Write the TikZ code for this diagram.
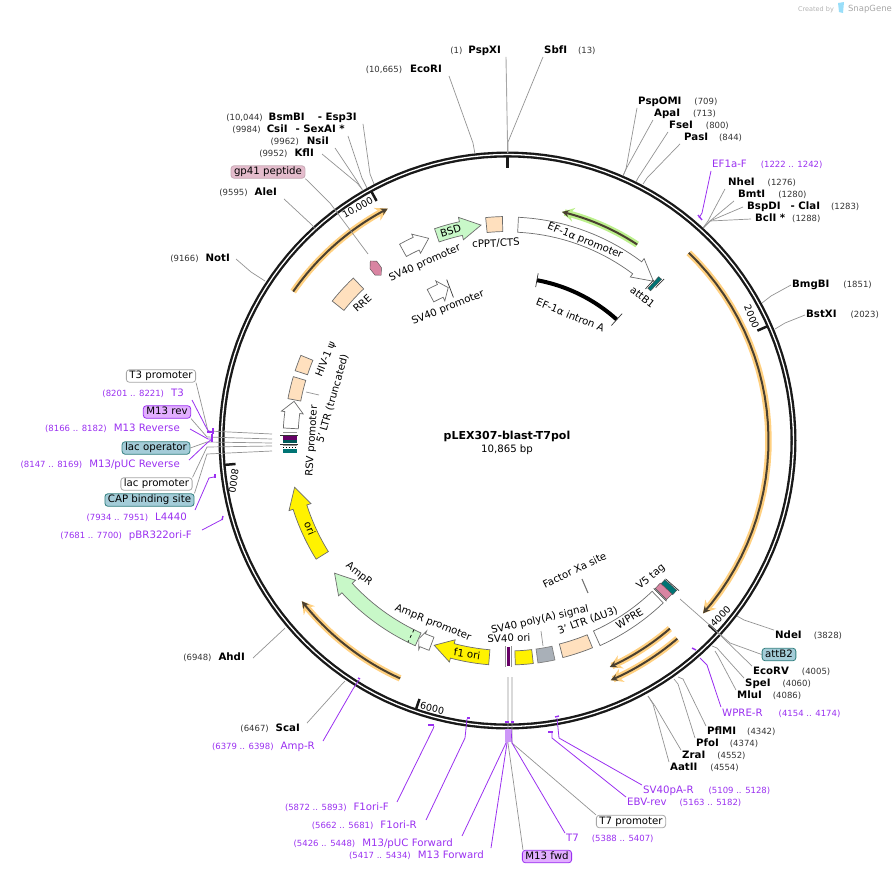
\documentclass[tikz,border=0pt]{standalone}
\usepackage{fontspec}
\setmainfont{DejaVu Sans}
\usetikzlibrary{arrows.meta}

\definecolor{primer}{HTML}{9A30F0}
\definecolor{numgray}{HTML}{333333}
\definecolor{peach}{HTML}{FFE0BE}
\definecolor{mint}{HTML}{C8F8C8}
\definecolor{tealbox}{HTML}{A4CCD8}
\definecolor{violetbox}{HTML}{E2AEFF}
\definecolor{pinkbox}{HTML}{E4BCCC}
\definecolor{glowor}{HTML}{FFD080}
\definecolor{glowgr}{HTML}{BCF08C}
\definecolor{steelbox}{HTML}{A9B0B8}
\definecolor{darktip}{HTML}{4A4030}

\tikzset{
  every node/.style={font=\fontsize{10.2}{12}\selectfont, inner sep=1pt, text height=7.5pt, text depth=2pt, yshift=-1pt},
  cutline/.style={draw=gray!85, line width=0.7pt},
  boxline/.style={draw=gray!70, line width=0.9pt},
  primerline/.style={draw=primer, line width=0.8pt},
  primertick/.style={draw=primer, line width=1.4pt},
  ringtick/.style={draw=black!90, line width=2.5pt},
  plainbox/.style={draw=gray!70, fill=white, rounded corners=3pt, inner xsep=3pt, inner ysep=1.5pt, line width=0.8pt},
  tealtag/.style={plainbox, draw=teal!60!gray, fill=tealbox},
  violettag/.style={plainbox, draw=primer, fill=violetbox},
  pinktag/.style={plainbox, draw=pinkbox!70!gray, fill=pinkbox},
  whitefeat/.style={draw=gray!85!black, fill=white, line width=0.7pt},
  mintfeat/.style={whitefeat, fill=mint},
  peachfeat/.style={whitefeat, fill=peach},
  yellowfeat/.style={whitefeat, fill=yellow},
  grayfeat/.style={whitefeat, fill=steelbox, draw=gray},
  tealfeat/.style={draw=black!70, fill=teal!70!cyan!70!black, line width=0.4pt},
  pinkfeat/.style={draw=black!70, fill=pinkbox!70!purple, line width=0.4pt},
  blackbar/.style={draw=black!80, line width=0.7pt},
  ringnum/.style={font=\fontsize{9.5}{11}\selectfont},
}

\newcommand{\sitepos}[1]{{\fontsize{8.5}{10}\selectfont\color{numgray}#1}}
\newcommand{\primerpos}[1]{{\fontsize{8.5}{10}\selectfont #1}}
% leader: label anchor, then bend and end on the ring
\newcommand{\linkto}[5][cutline]{%
  \coordinate (#2-k) at (#4);
  \coordinate (#2-r) at (#5);
  \draw[#1] (#3) -- (#2-k) -- (#2-r);
}
% angles run clockwise from 3 o'clock, radius in pixels
\newcommand{\arcarrow}[7]{%
  \draw[#7] plot[domain=#1:#2,samples=20] (\x:#4-#5) -- (#2:#4-#6) -- (#3:#4)
    -- (#2:#4+#6) -- plot[domain=#2:#1,samples=20] (\x:#4+#5) -- cycle;
}
\newcommand{\arcbox}[5]{%
  \draw[#5] plot[domain=#1:#2,samples=12] (\x:#3-#4) -- plot[domain=#2:#1,samples=12] (\x:#3+#4) -- cycle;
}
\newcommand{\glowarc}[4]{%
  \draw[#4, line width=6.5pt, line cap=butt, -{Stealth[length=12pt,width=14pt]}] plot[domain=#1:#2,samples=30] (\x:#3);
  \draw[darktip, line width=2pt, -{Stealth[length=7pt,width=7pt]}] plot[domain=#1:#2,samples=30] (\x:#3);
}
\newcommand{\ringmark}[1]{\draw[ringtick] (#1:273) -- (#1:284);}

\begin{document}
\begin{tikzpicture}[x=1pt,y=-1pt]
\useasboundingbox (0,0) rectangle (895,873);

% ---- credit
\node[text=gray!60, font=\fontsize{6.5}{8}\selectfont] (credit) at (816,8) {Created by};
\node[text=gray!70, font=\fontsize{8.5}{10}\selectfont] (brand) at (870,8) {SnapGene};
\fill[cyan!40] (838,3) -- (844,2) -- (843,13) -- (839,12) -- cycle;

% ---- ring
\begin{scope}[shift={(507.5,440.5)}]
\draw[black!90, line width=6pt] plot[domain=0:360,samples=145] (\x:286) -- cycle;
\draw[white, line width=1.3pt] plot[domain=0:360,samples=145] (\x:286) -- cycle;
\ringmark{-90}
\ringmark{-23.73}
\ringmark{42.5}
\ringmark{108.8}
\ringmark{175.07}
\ringmark{241.34}

% ---- highlighted reading frames
\glowarc{214.8}{242.7}{261}{glowor}
\glowarc{-46}{41.5}{261}{glowor}
\glowarc{49.2}{65.7}{248.5}{glowor}
\glowarc{49.4}{66.7}{261}{glowor}
\glowarc{114.3}{142}{261}{glowor}
\glowarc{-56.5}{-76.6}{235}{glowgr}

% ---- features
\arcarrow{-87.2}{-53.1}{-47.5}{216}{7.5}{11.5}{whitefeat}
\arcarrow{-109}{-102.4}{-97}{217}{7}{11.5}{mintfeat}
\arcarrow{-118.8}{-114.9}{-111.3}{217}{7}{10.5}{whitefeat}
\arcbox{-95.6}{-91.3}{216.5}{7.5}{peachfeat}
\arcbox{-141.5}{-133.5}{216.5}{7.5}{peachfeat}
\draw[pinkfeat] (-127.4:226) -- (-128.7:220) -- (-128.7:212) -- (-127.4:208) -- (-126.1:214) -- (-126.1:222) -- cycle;
\arcarrow{-118}{-114.2}{-111.2}{164}{7}{11}{whitefeat}
\draw[blackbar] (-110.7:153) -- (-110.7:172);
\arcbox{-47.3}{-46.3}{215}{8}{tealfeat}
\draw[blackbar] (-45.9:213) -- (-45.9:225);
\draw[blackbar] (-47.7:205) -- (-47.7:217);
\draw[black, line width=4pt] plot[domain=-79.6:-47.9,samples=20] (\x:163);
\draw[blackbar] (-79.6:156) -- (-79.6:170);
\draw[blackbar] (-47.9:155) -- (-47.9:171);
\arcbox{198.2}{202.4}{217}{6.5}{peachfeat}
\arcbox{190.8}{196.6}{217}{6.5}{peachfeat}
\arcarrow{183.2}{187.4}{190.4}{217}{7.5}{11}{whitefeat}
\arcarrow{148.2}{162.2}{167.6}{218}{7.2}{11.5}{yellowfeat}
\arcarrow{114.2}{137.4}{142.5}{218}{7}{11.5}{mintfeat}
\draw[black, dashed, line width=0.7pt] (116.3:211) -- (116.3:225);
\arcarrow{110.5}{113}{114.1}{217}{7}{10}{whitefeat}
\arcarrow{94.8}{104.7}{109.7}{217.5}{7.5}{11.5}{yellowfeat}
\arcbox{83.4}{88}{217.5}{7}{yellowfeat}
\arcbox{77.8}{82.2}{217.5}{7}{grayfeat}
\arcbox{67.7}{75.7}{217}{7}{peachfeat}
\arcbox{46.2}{65.7}{217}{8}{whitefeat}
\arcbox{41.5}{43}{218}{8}{tealfeat}
\arcbox{43}{45}{217}{8}{pinkfeat}
\draw[blackbar] (41.2:210) -- (41.2:228);
\draw[blackbar] (45.3:208) -- (45.3:226);
\end{scope}

% ---- stacked features on the left
\draw[cutline] (283,432) -- (297,432);
\draw[blackbar] (280,435) -- (298,435);
\fill[violet!80!black] (283,436) rectangle (297,439.5);
\fill[teal!70!black] (283,440) rectangle (297,442.5);
\draw[blackbar] (280,444) -- (298,444);
\draw[black, dotted, line width=1pt] (283,447) -- (297,447);
\draw[cutline] (283,445.5) -- (297,445.5);
\fill[teal!70!cyan!70!black] (283,449) rectangle (297,452.5);
% ---- bars at the SV40 ori
\fill[violet!80!black] (507,647) rectangle (510,666);
\draw[cutline] (505.8,646) -- (505.8,667);
\draw[cutline] (511.3,646) -- (511.3,667);

% ---- feature texts
\node[rotate=17] (bsd) at (451,231) {BSD};
\node[rotate=24] (sv40a) at (425,262) {SV40 promoter};
\node[rotate=3] (cppt) at (496,243) {cPPT/CTS};
\node[rotate=-22] (efprom) at (585,240) {EF-1α promoter};
\node[rotate=-38] (attb1) at (642,297) {attB1};
\node[rotate=-22] (efintron) at (570,315) {EF-1α intron A};
\node[rotate=22] (sv40b) at (448,307) {SV40 promoter};
\node[rotate=42] (rre) at (363,303) {RRE};
\node[rotate=68] (psi) at (326,358) {HIV-1 ψ};
\node[rotate=74] (ltr5) at (333,398) {5' LTR (truncated)};
\node[rotate=86] (rsv) at (312,440) {RSV promoter};
\node[rotate=-68] (ori) at (309,528) {ori};
\node[rotate=-38] (ampr) at (359,573) {AmpR};
\node[rotate=-22] (amprp) at (433,622) {AmpR promoter};
\node[rotate=-8] (f1ori) at (467,654) {f1 ori};
\node[rotate=2] (svori) at (509,638) {SV40 ori};
\node[rotate=13] (polya) at (540,619) {SV40 poly(A) signal};
\node[rotate=20] (ltr3) at (588,620) {3' LTR (ΔU3)};
\node[rotate=31] (wpre) at (630,618) {WPRE};
\node[rotate=26] (xa) at (575,570) {Factor Xa site};
\node[rotate=40] (v5) at (651,576) {V5 tag};
\coordinate (ltr5-k) at (306,391); \coordinate (ltr5-r) at (319,394);
\draw[cutline] (ltr5-k) -- (ltr5-r);
\coordinate (polya-k) at (541,630); \coordinate (polya-r) at (543,645);
\draw[cutline] (polya-k) -- (polya-r);
\coordinate (xa-k) at (582,578); \coordinate (xa-r) at (588,592);
\draw[draw=gray!90!black, line width=1.1pt] (xa-k) -- (xa-r);

% ---- ring numbers
\node[rotate=-67, ringnum] (n2000) at (751,316) {2000};
\node[rotate=45, ringnum] (n4000) at (721,616) {4000};
\node[rotate=-13, ringnum] (n6000) at (432,708) {6000};
\node[rotate=-98, ringnum] (n8000) at (233,480) {8000};
\node[rotate=30, ringnum] (n10000) at (358,207) {10,000};

% ---- title
\node[font=\bfseries\fontsize{11}{13}\selectfont] (title) at (507,436) {pLEX307-blast-T7pol};
\node (bp) at (507,449) {10,865 bp};

% ---- cut sites, top and left
\node[anchor=east] (pspxi) at (502,50) {\sitepos{(1)}\hspace{6pt}\textbf{PspXI}};
\node[anchor=west] (sbfi) at (543,50) {\textbf{SbfI}\hspace{11pt}\sitepos{(13)}};
\node[anchor=east] (ecori) at (443,69) {\sitepos{(10,665)}\hspace{8pt}\textbf{EcoRI}};
\node[anchor=east] (bsmbi) at (358,117) {\sitepos{(10,044)}\hspace{6pt}\textbf{BsmBI}\hspace{13pt}\textbf{- Esp3I}};
\node[anchor=east] (csii) at (346,129) {\sitepos{(9984)}\hspace{6pt}\textbf{CsiI}\hspace{8pt}\textbf{- SexAI *}};
\node[anchor=east] (nsii) at (330,141) {\sitepos{(9962)}\hspace{8pt}\textbf{NsiI}};
\node[anchor=east] (kfli) at (315,153) {\sitepos{(9952)}\hspace{7pt}\textbf{KflI}};
\node[pinktag] (gp41) at (268,171) {gp41 peptide};
\node[anchor=east] (alei) at (278,192) {\sitepos{(9595)}\hspace{7pt}\textbf{AleI}};
\node[anchor=east] (noti) at (231,258) {\sitepos{(9166)}\hspace{7pt}\textbf{NotI}};
\linkto[boxline]{pspxi}{[xshift=4pt]pspxi.south east}{507.5,141}{507.5,152}
\linkto{sbfi}{sbfi.south west}{508,141}{508,152}
\linkto{ecori}{[xshift=6pt]ecori.south east}{473,142}{475,153}
\linkto{bsmbi}{[xshift=5pt]bsmbi.south east}{370,173}{374,183}
\linkto{csii}{[xshift=2pt]csii.south east}{362,177}{367,187}
\linkto{nsii}{[xshift=5pt]nsii.south east}{357,180}{363,190}
\linkto{kfli}{[xshift=7pt]kfli.east}{357,182}{362,188}
\linkto{gp41}{gp41.south east}{330,202}{368,253}
\linkto{alei}{[xshift=6pt]alei.south east}{312,224}{316,229}
\linkto{noti}{[xshift=5pt]noti.east}{251,271}{265,280}

% ---- cut sites, right
\node[anchor=west] (pspomi) at (637,101) {\textbf{PspOMI}\hspace{13pt}\sitepos{(709)}};
\node[anchor=west] (apai) at (653,113) {\textbf{ApaI}\hspace{13pt}\sitepos{(713)}};
\node[anchor=west] (fsei) at (668,125) {\textbf{FseI}\hspace{13pt}\sitepos{(800)}};
\node[anchor=west] (pasi) at (683,137) {\textbf{PasI}\hspace{11pt}\sitepos{(844)}};
\node[anchor=west] (nhei) at (727,182) {\textbf{NheI}\hspace{13pt}\sitepos{(1276)}};
\node[anchor=west] (bmti) at (737,194) {\textbf{BmtI}\hspace{13pt}\sitepos{(1280)}};
\node[anchor=west] (bspdi) at (746,206) {\textbf{BspDI}\hspace{10pt}\textbf{- ClaI}\hspace{11pt}\sitepos{(1283)}};
\node[anchor=west] (bcli) at (754,218) {\textbf{BclI *}\hspace{7pt}\sitepos{(1288)}};
\node[anchor=west] (bmgbi) at (791,284) {\textbf{BmgBI}\hspace{14pt}\sitepos{(1851)}};
\node[anchor=west] (bstxi) at (805,314) {\textbf{BstXI}\hspace{14pt}\sitepos{(2023)}};
\linkto{pspomi}{pspomi.south west}{626,168}{623,175}
\linkto{apai}{apai.south west}{626,168}{623,175}
\linkto{fsei}{fsei.south west}{638,177}{636,181}
\linkto{pasi}{[xshift=-3pt]pasi.south west}{647,177}{643,183}
\linkto{nhei}{[xshift=-2pt]nhei.south west}{708,220}{703,227}
\linkto{bmti}{[xshift=-3pt]bmti.south west}{710,220}{703,227}
\linkto{bspdi}{[xshift=-3pt]bspdi.west}{710,220}{703,227}
\linkto{bcli}{[xshift=-3pt]bcli.west}{710,220}{703,227}
\linkto{bmgbi}{bmgbi.west}{771,295}{762,302}
\linkto{bstxi}{bstxi.west}{785,322}{775,328}

% ---- cut sites, lower right
\node[anchor=west] (ndei) at (774,635) {\textbf{NdeI}\hspace{12pt}\sitepos{(3828)}};
\node[tealtag] (attb2) at (779,653.5) {attB2};
\node[anchor=west] (ecorv) at (752,671) {\textbf{EcoRV}\hspace{13pt}\sitepos{(4005)}};
\node[anchor=west] (spei) at (744,683) {\textbf{SpeI}\hspace{12pt}\sitepos{(4060)}};
\node[anchor=west] (mlui) at (736,695) {\textbf{MluI}\hspace{11pt}\sitepos{(4086)}};
\node[anchor=west] (pflmi) at (706,731) {\textbf{PflMI}\hspace{11pt}\sitepos{(4342)}};
\node[anchor=west] (pfoi) at (695,743) {\textbf{PfoI}\hspace{11pt}\sitepos{(4374)}};
\node[anchor=west] (zrai) at (681,755) {\textbf{ZraI}\hspace{12pt}\sitepos{(4552)}};
\node[anchor=west] (aatii) at (669,767) {\textbf{AatII}\hspace{13pt}\sitepos{(4554)}};
\node[plainbox] (t7p) at (631,820.5) {T7 promoter};
\node[anchor=east] (scai) at (301,728) {\sitepos{(6467)}\hspace{7pt}\textbf{ScaI}};
\node[anchor=east] (ahdi) at (246,657) {\sitepos{(6948)}\hspace{7pt}\textbf{AhdI}};
\node[violettag] (m13fwd) at (547,855.5) {M13 fwd};
\linkto{ndei}{ndei.north west}{744,619}{737,615}
\linkto{attb2}{attb2.west}{730,642}{680,598}
\linkto{ecorv}{ecorv.north west}{720,634}{714,628}
\linkto{spei}{spei.north west}{717,647}{712,645}
\linkto{mlui}{mlui.north west}{718,655}{715,650}
\linkto{pflmi}{pflmi.north west}{683,678}{678,676}
\linkto{pfoi}{pfoi.north west}{678,683}{674,678}
\linkto{zrai}{zrai.north west}{655,705}{648,695}
\linkto{aatii}{aatii.north west}{653,703}{648,695}
\linkto{t7p}{t7p.north west}{512,742}{512,676}
\linkto{scai}{[xshift=6pt]scai.north east}{343,682}{345,680}
\linkto{ahdi}{[xshift=7pt]ahdi.east}{283,629}{285,627}
\linkto{m13fwd}{[xshift=1pt]m13fwd.north west}{508,742}{508,676}

% ---- boxes on the left, their lines run through to the features
\node[plainbox] (t3p) at (161,375) {T3 promoter};
\node[violettag] (m13rev) at (167,411) {M13 rev};
\node[tealtag] (lacop) at (156,447) {lac operator};
\node[plainbox] (lacp) at (156.5,483) {lac promoter};
\node[tealtag] (cap) at (149.5,499) {CAP binding site};
\linkto{t3p}{t3p.south east}{208,430}{272,433}
\linkto{m13rev}{m13rev.south east}{207,436}{272,438}
\linkto{lacop}{lacop.east}{207,441}{272,442}
\linkto{lacp}{lacp.north east}{207,446}{272,445}
\linkto{cap}{cap.north east}{207,453}{272,450}

% ---- primers
\node[text=primer, anchor=west] (ef1af) at (711,164) {EF1a-F\hspace{14pt}\primerpos{(1222 .. 1242)}};
\node[text=primer, anchor=west] (wprer) at (721,713) {WPRE-R\hspace{16pt}\primerpos{(4154 .. 4174)}};
\node[text=primer, anchor=west] (sv40par) at (642,790) {SV40pA-R\hspace{15pt}\primerpos{(5109 .. 5128)}};
\node[text=primer, anchor=west] (ebv) at (626,802) {EBV-rev\hspace{13pt}\primerpos{(5163 .. 5182)}};
\node[text=primer, anchor=west] (t7) at (565,838) {T7\hspace{13pt}\primerpos{(5388 .. 5407)}};
\node[text=primer, anchor=east] (m13f) at (485,855) {\primerpos{(5417 .. 5434)}\hspace{7pt}M13 Forward};
\node[text=primer, anchor=east] (m13puf) at (454,843) {\primerpos{(5426 .. 5448)}\hspace{7pt}M13/pUC Forward};
\node[text=primer, anchor=east] (f1r) at (418,825) {\primerpos{(5662 .. 5681)}\hspace{7pt}F1ori-R};
\node[text=primer, anchor=east] (f1f) at (390,807) {\primerpos{(5872 .. 5893)}\hspace{7pt}F1ori-F};
\node[text=primer, anchor=east] (ampf) at (316,746) {\primerpos{(6379 .. 6398)}\hspace{7pt}Amp-R};
\node[text=primer, anchor=east] (pbr) at (193,535) {\primerpos{(7681 .. 7700)}\hspace{7pt}pBR322ori-F};
\node[text=primer, anchor=east] (l4440) at (188,517) {\primerpos{(7934 .. 7951)}\hspace{7pt}L4440};
\node[text=primer, anchor=east] (m13pur) at (181,464) {\primerpos{(8147 .. 8169)}\hspace{7pt}M13/pUC Reverse};
\node[text=primer, anchor=east] (m13r) at (181,428) {\primerpos{(8166 .. 8182)}\hspace{7pt}M13 Reverse};
\node[text=primer, anchor=east] (t3) at (185,393) {\primerpos{(8201 .. 8221)}\hspace{7pt}T3};
\linkto[primerline]{ef1af}{ef1af.south west}{702,212}{699,217}
\linkto[primerline]{wprer}{[yshift=1pt]wprer.north west}{707,664}{700,657}
\linkto[primerline]{sv40par}{sv40par.north west}{559,737}{557,717}
\linkto[primerline]{ebv}{ebv.north west}{552,737}{552,732}
\linkto[primerline]{t7}{t7.north west}{512,742}{511,728}
\linkto[primerline]{m13f}{[xshift=6pt,yshift=2pt]m13f.north east}{507,742}{507,728}
\linkto[primerline]{m13puf}{[xshift=8pt,yshift=2pt]m13puf.north east}{506,742}{506,728}
\linkto[primerline]{f1r}{[xshift=8pt]f1r.north east}{465,737}{467,718}
\linkto[primerline]{f1f}{[xshift=7pt]f1f.north east}{433,728}{434,725}
\linkto[primerline]{ampf}{[xshift=7pt]ampf.north east}{353,688}{359,679}
\linkto[primerline]{pbr}{[xshift=9pt]pbr.north east}{223,518}{223,518}
\linkto[primerline]{l4440}{[xshift=7pt,yshift=2pt]l4440.north east}{209,477}{214,476}
\linkto[primerline]{m13pur}{[xshift=8pt,yshift=-1pt]m13pur.north east}{207,442}{212,438}
\linkto[primerline]{m13r}{[xshift=9pt]m13r.east}{208,438}{212,438}
\linkto[primerline]{t3}{[xshift=7pt]t3.south east}{207,428}{210,432}

% ---- primer marks
\draw[primertick] (698,215) -- (702,220);
\draw[primertick] (692,648) -- (696,650);
\draw[primertick] (555,717) -- (559,716);
\draw[primertick] (548,732) -- (553,732);
\fill[primer!50] (505,729) rectangle (511,742);
\draw[primertick] (505,722) -- (509,722);
\draw[primertick] (511,722) -- (514,722);
\draw[primertick] (467,718) -- (470,718);
\draw[primertick] (428,725) -- (434,725);
\draw[primertick] (358,678) -- (360,679);
\draw[primertick] (223,516) -- (222,520);
\draw[primertick] (215,474) -- (215,478);
\draw[primertick] (207,432) -- (213,432);
\draw[primertick] (213,428) -- (213,434);
\draw[primertick] (212,434) -- (212,442);
\end{tikzpicture}
\end{document}
